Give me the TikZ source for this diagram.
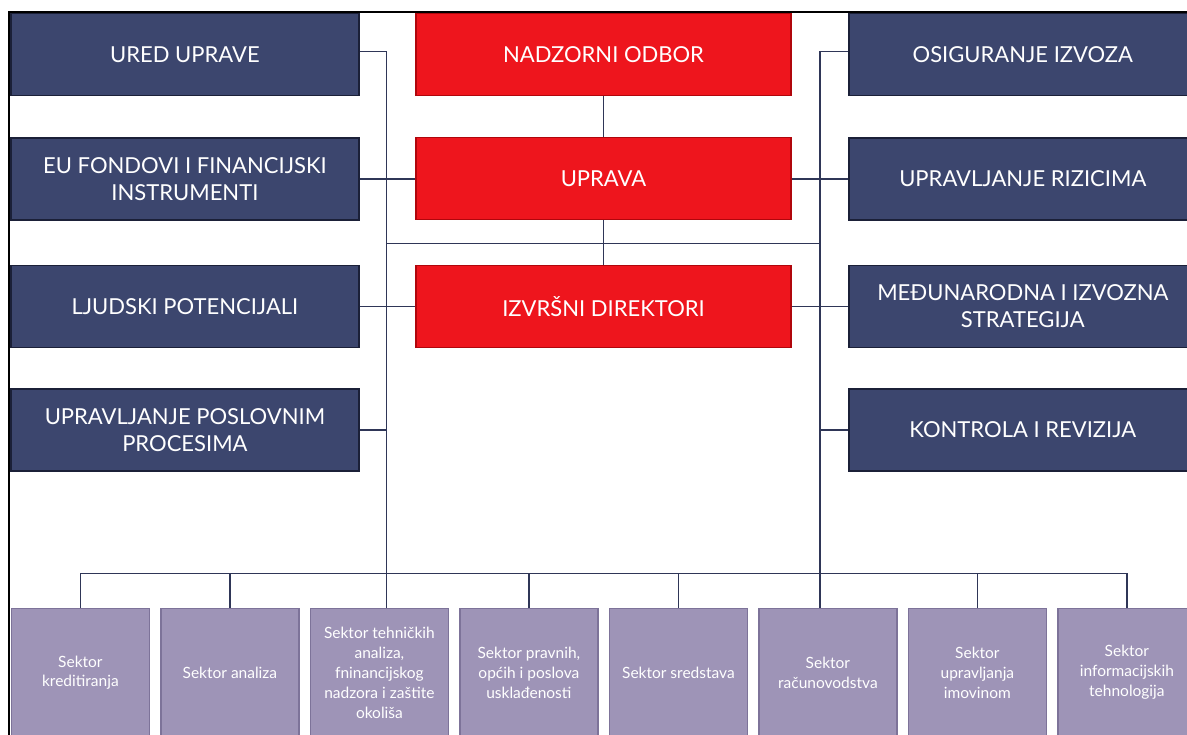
\documentclass[tikz,border=0pt]{standalone}
\usepackage{fontspec}
\setmainfont{Lato}
\definecolor{navyfill}{HTML}{3C466E}
\definecolor{navyedge}{HTML}{1B2038}
\definecolor{redfill}{HTML}{EE151D}
\definecolor{rededge}{HTML}{B0060C}
\definecolor{purfill}{HTML}{9E94B7}
\definecolor{puredge}{HTML}{7D7399}
\definecolor{linecol}{HTML}{2F3657}
\begin{document}
\begin{tikzpicture}[x=1pt,y=-1pt,
  navybox/.style={draw=navyedge, fill=navyfill, line width=1.4pt, minimum width=348pt, minimum height=82pt,
    text=white, font=\fontsize{22}{27}\selectfont, align=center, inner sep=0pt},
  redbox/.style={draw=rededge, fill=redfill, line width=1.2pt, minimum width=375pt, minimum height=82pt,
    text=white, font=\fontsize{22}{27}\selectfont, align=center, inner sep=0pt},
  secbox/.style={draw=puredge, fill=purfill, line width=1.2pt, minimum width=138pt, minimum height=128pt,
    text=white, font=\fontsize{15.5}{20}\selectfont, align=center, inner sep=0pt},
  conn/.style={draw=linecol, line width=1.5pt}]
\useasboundingbox (0,0) rectangle (1187,735);
\clip (0,0) rectangle (1187,735);
\fill[white] (0,0) rectangle (1187,735);

% left column
\node[navybox] (l1) at (184.9,54.7) {URED UPRAVE};
\node[navybox] (l2) at (184.9,178.9) {EU FONDOVI I FINANCIJSKI\\INSTRUMENTI};
\node[navybox] (l3) at (184.9,306.4) {LJUDSKI POTENCIJALI};
\node[navybox] (l4) at (184.9,429.9) {UPRAVLJANJE POSLOVNIM\\PROCESIMA};
% centre column
\node[redbox] (c1) at (603.5,54.7) {NADZORNI ODBOR};
\node[redbox] (c2) at (603.5,178.9) {UPRAVA};
\node[redbox] (c3) at (603.5,306.4) {IZVRŠNI DIREKTORI};
% right column
\node[navybox] (r1) at (1022.8,54.7) {OSIGURANJE IZVOZA};
\node[navybox] (r2) at (1022.8,178.9) {UPRAVLJANJE RIZICIMA};
\node[navybox] (r3) at (1022.8,306.4) {MEĐUNARODNA I IZVOZNA\\STRATEGIJA};
\node[navybox] (r4) at (1022.8,429.9) {KONTROLA I REVIZIJA};
% sectors
\node[secbox] (s1) at (80.4,672.7) {Sektor\\kreditiranja};
\node[secbox] (s2) at (229.9,672.7) {Sektor analiza};
\node[secbox] (s3) at (379.4,672.7) {Sektor tehničkih\\analiza,\\fninancijskog\\nadzora i zaštite\\okoliša};
\node[secbox] (s4) at (528.9,672.7) {Sektor pravnih,\\općih i poslova\\usklađenosti};
\node[secbox] (s5) at (678.4,672.7) {Sektor sredstava};
\node[secbox] (s6) at (827.9,672.7) {Sektor\\računovodstva};
\node[secbox] (s7) at (977.4,672.7) {Sektor\\upravljanja\\imovinom};
\node[secbox] (s8) at (1126.9,672.7) {Sektor\\informacijskih\\tehnologija};

% connector coordinates
\coordinate (Ltop) at (386.5,51.7);
\coordinate (Rtop) at (820,51.7);
\coordinate (Lbus) at (386.5,243.3);
\coordinate (Rbus) at (820,243.3);
\coordinate (Bl) at (80.4,573.3);
\coordinate (Br) at (1126.9,573.3);

\draw[conn] (l1.east |- Ltop) -- (Ltop) -- (Ltop |- s3.north);
\draw[conn] (r1.west |- Rtop) -- (Rtop) -- (Rtop |- s6.north);
\draw[conn] (l2.east) -- (c2.west);
\draw[conn] (c2.east) -- (r2.west);
\draw[conn] (l3.east) -- (c3.west);
\draw[conn] (c3.east) -- (r3.west);
\draw[conn] (l4.east) -- (l4.east -| Ltop);
\draw[conn] (r4.west) -- (r4.west -| Rtop);
\draw[conn] (c1.south) -- (c2.north);
\draw[conn] (c2.south) -- (c3.north);
\draw[conn] (Lbus) -- (Rbus);
\draw[conn] (Bl) -- (Br);
\foreach \s in {s1,s2,s4,s5,s7,s8}{
  \draw[conn] (\s.north |- Bl) -- (\s.north);
}

% frame
\draw[line width=2pt, black] (8.5,740) -- (8.5,12) -- (1190,12);
\end{tikzpicture}
\end{document}
